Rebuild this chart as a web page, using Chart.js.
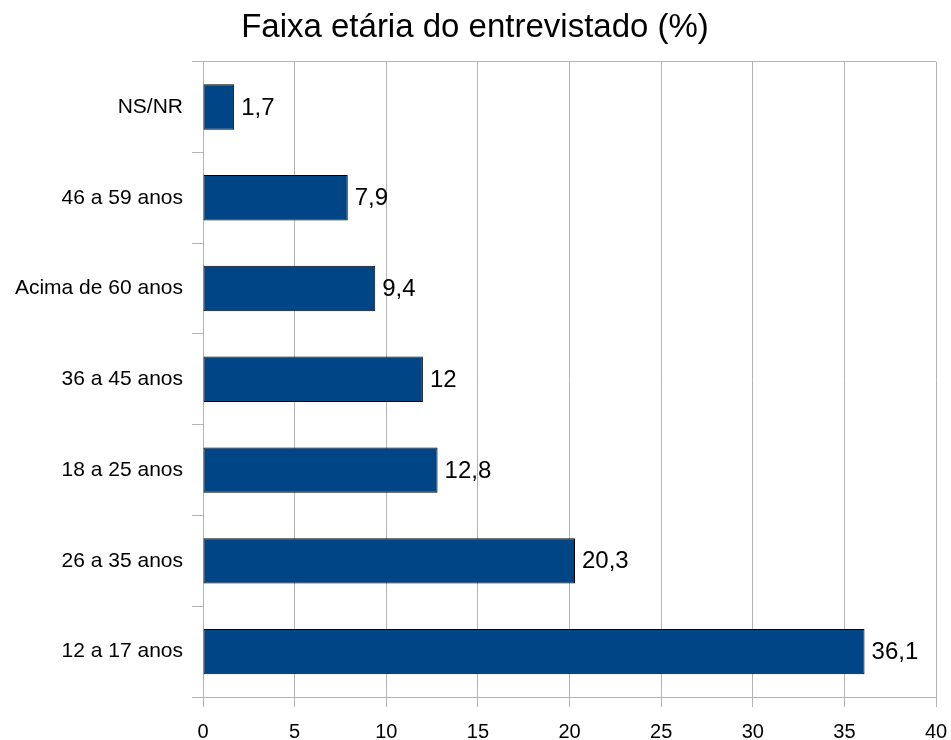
<!DOCTYPE html>
<html>
<head>
<meta charset="utf-8">
<script src="https://cdn.jsdelivr.net/npm/chart.js@4.4.1/dist/chart.umd.min.js"></script>
<style>
  html, body { margin: 0; padding: 0; background: #ffffff; }
  #wrap { width: 951px; height: 740px; }
</style>
</head>
<body>
<div id="wrap"><canvas id="c" width="951" height="740"></canvas></div>
<script>
const categories = ["NS/NR", "46 a 59 anos", "Acima de 60 anos", "36 a 45 anos", "18 a 25 anos", "26 a 35 anos", "12 a 17 anos"];
const values = [1.7, 7.9, 9.4, 12, 12.8, 20.3, 36.1];
const xTicks = [0, 5, 10, 15, 20, 25, 30, 35, 40];
const chartTitle = "Faixa etária do entrevistado (%)";

const FONT = "'Liberation Sans', Arial, sans-serif";
const GRID = "#b3b3b3";

const valueLabels = {
  id: 'valueLabels',
  afterDatasetsDraw(chart) {
    const ctx = chart.ctx;
    const meta = chart.getDatasetMeta(0);
    ctx.save();
    ctx.font = "24px " + FONT;
    ctx.fillStyle = "#000000";
    ctx.textAlign = "left";
    ctx.textBaseline = "middle";
    meta.data.forEach((bar, i) => {
      const txt = String(values[i]).replace('.', ',');
      ctx.fillText(txt, bar.x + 7, bar.y + 1);
    });
    ctx.restore();
  }
};

new Chart(document.getElementById('c'), {
  type: 'bar',
  data: {
    labels: categories,
    datasets: [{
      data: values,
      backgroundColor: "#004586",
      borderColor: "#000000",
      borderWidth: 1,
      borderSkipped: false,
      barPercentage: 0.5,
      categoryPercentage: 1.0
    }]
  },
  options: {
    indexAxis: 'y',
    responsive: false,
    animation: false,
    devicePixelRatio: 1,
    layout: { padding: { left: 14, right: 15, top: 0, bottom: 0 } },
    plugins: {
      legend: { display: false },
      tooltip: { enabled: false },
      title: {
        display: true,
        text: chartTitle,
        color: "#000000",
        font: { family: FONT, size: 33, weight: 'normal' },
        padding: { top: 8, bottom: 14 }
      }
    },
    scales: {
      x: {
        type: 'linear',
        min: 0,
        max: 40,
        afterBuildTicks(scale) { scale.ticks = xTicks.map(v => ({ value: v })); },
        afterFit(scale) { scale.height = 43; scale.paddingLeft = 0; scale.paddingRight = 0; },
        grid: {
          color: GRID,
          tickColor: GRID,
          tickLength: 10,
          drawTicks: true
        },
        border: { display: true, color: GRID },
        ticks: {
          color: "#000000",
          font: { family: FONT, size: 20 },
          padding: 13,
          maxRotation: 0
        }
      },
      y: {
        afterFit(scale) { scale.width = 189; scale.paddingTop = 0; scale.paddingBottom = 0; },
        grid: {
          offset: true,
          color: (c) => (c.index === 0 || c.index === undefined) ? GRID : 'rgba(0,0,0,0)',
          tickColor: GRID,
          tickLength: 11
        },
        border: { display: true, color: GRID },
        ticks: {
          color: "#000000",
          font: { family: FONT, size: 21 },
          padding: 9
        }
      }
    }
  },
  plugins: [valueLabels]
});
</script>
</body>
</html>
